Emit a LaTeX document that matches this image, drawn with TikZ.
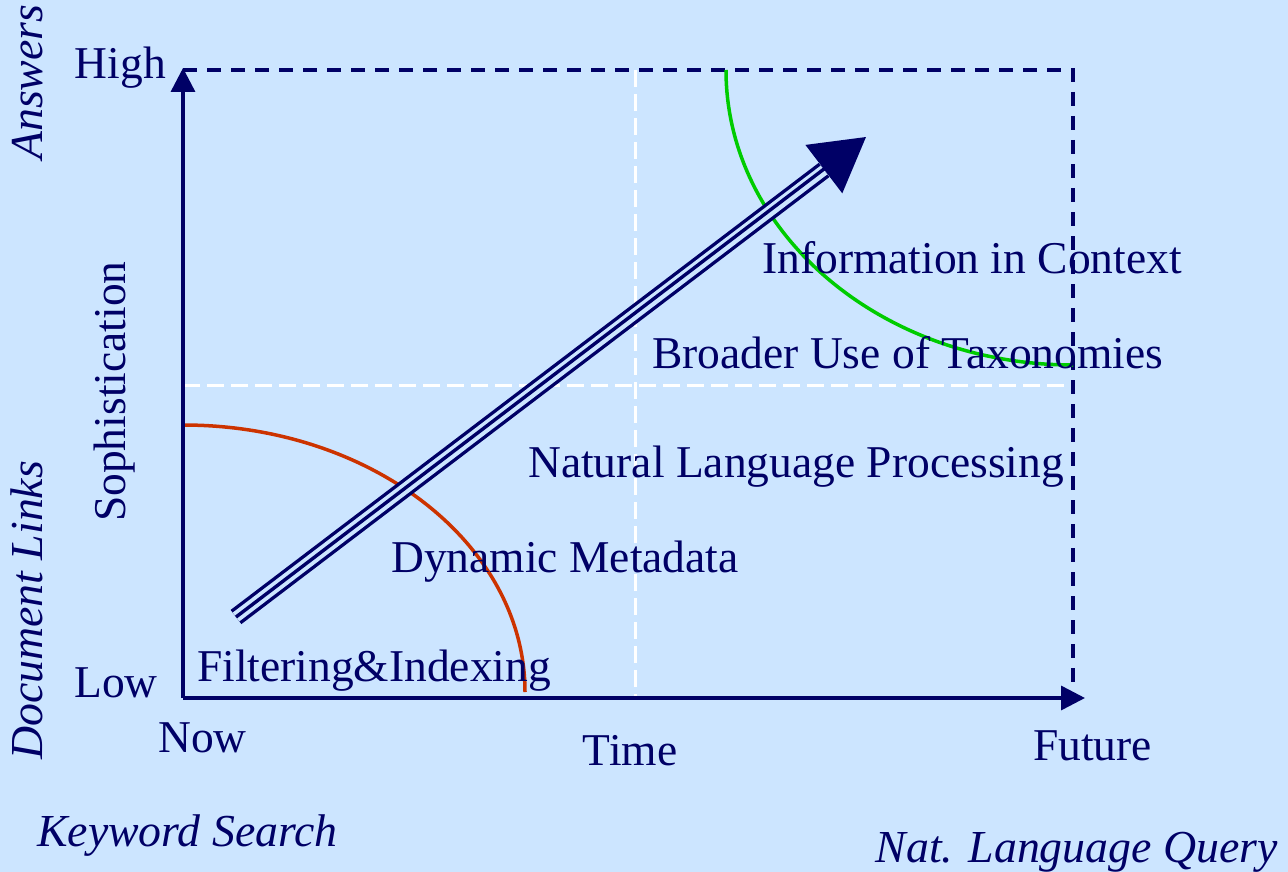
\documentclass[tikz,border=0pt]{standalone}
\usepackage{fontspec}
\setmainfont{Liberation Serif}
\usetikzlibrary{arrows.meta}
\definecolor{bg}{RGB}{204,229,255}
\definecolor{navy}{RGB}{0,0,102}
\definecolor{redarc}{RGB}{204,51,0}
\definecolor{greenarc}{RGB}{0,204,0}
\begin{document}
\begin{tikzpicture}[x=1pt,y=-1pt,
  lbl/.style={inner sep=0pt, text=navy, font=\fontsize{45.5}{50}\selectfont},
  ilbl/.style={lbl, font=\fontsize{45.8}{50}\selectfont\itshape},
  axisline/.style={draw=navy, line width=3.5pt, -{Triangle[length=24pt,width=24pt]}},
  navydash/.style={draw=navy, line width=3.5pt, dash pattern=on 14pt off 10pt},
  whitedash/.style={draw=white, line width=3pt, dash pattern=on 17pt off 7pt},
  arcline/.style={line width=3.5pt}
]
\fill[bg] (0,0) rectangle (1288,872);
\useasboundingbox (0,0) rectangle (1288,872);

% coordinates
\coordinate (O) at (183,698);
\coordinate (Ytop) at (183,68);
\coordinate (Xend) at (1085,698);
\coordinate (TL) at (183,70);
\coordinate (TR) at (1073,70);
\coordinate (BR) at (1073,692);
\coordinate (VmT) at (635,70);
\coordinate (VmB) at (635,698);
\coordinate (HmL) at (183,385);
\coordinate (HmR) at (1073,385);
\coordinate (RA) at (183,425);
\coordinate (RB) at (525,692);
\coordinate (GA) at (726,70);
\coordinate (GB) at (1073,365);
\coordinate (S) at (236,617);
\coordinate (B) at (824,170);
\coordinate (T) at (866,137);

% grid dashes
\draw[whitedash] (VmT) -- (VmB);
\draw[whitedash] (HmL) -- (HmR);
\draw[navydash] (TL) -- (TR) -- (BR);

% arcs
\draw[redarc, arcline] (RA) .. controls (371.9,425) and (525,544.5) .. (RB);
\draw[greenarc, arcline] (GA) .. controls (726,232.9) and (881.4,365) .. (GB);

% axes
\draw[axisline] (O) -- (Ytop);
\draw[axisline] (O) -- (Xend);

% big triple arrow
\draw[navy, line width=3.4pt, double=bg, double distance=11pt] (S) -- (B);
\draw[navy, line width=3.4pt, -{Triangle[length=53pt,width=60pt]}] (S) -- (T);

% labels
\node[lbl, anchor=base east] (high) at (166,79) {High};
\node[lbl, anchor=base east] (low) at (158,697) {Low};
\node[lbl, anchor=base west] (now) at (158,752) {Now};
\node[lbl, anchor=base] (time) at (630,765) {Time};
\node[lbl, anchor=base west] (future) at (1033,760) {Future};
\node[lbl, anchor=base west, rotate=90] (soph) at (125,522) {Sophistication};
\node[ilbl, anchor=base west, rotate=90] (answers) at (42,160) {Answers};
\node[ilbl, anchor=base west, rotate=90] (doclinks) at (42,760) {Document Links};
\node[ilbl, anchor=base west] (kw) at (37,846) {Keyword Search};
\node[ilbl, anchor=base east] (nlq) at (1278,862) {Nat. Language Query};

\node[lbl, anchor=base west] (info) at (762,273) {Information in Context};
\node[lbl, anchor=base west] (tax) at (652,368) {Broader Use of Taxonomies};
\node[lbl, anchor=base west] (nlp) at (528,477) {Natural Language Processing};
\node[lbl, anchor=base west] (meta) at (391,572) {Dynamic Metadata};
\node[lbl, anchor=base west] (filt) at (197,681) {Filtering\&Indexing};
\end{tikzpicture}
\end{document}
